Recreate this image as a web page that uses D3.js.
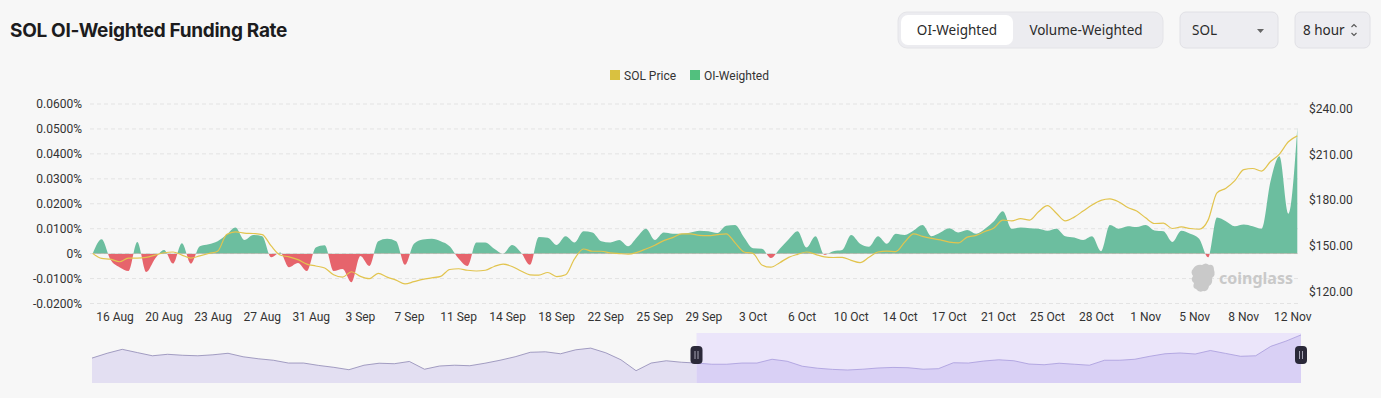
<!DOCTYPE html>
<html>
<head>
<meta charset="utf-8">
<script src="https://cdn.jsdelivr.net/npm/d3@7"></script>
<style>
  body { margin: 0; background: #f7f7f7; }
  svg { display: block; font-family: Roboto, "Noto Sans", sans-serif; }
</style>
</head>
<body>
<script>
// funding rate in %, one value every 16 hours starting 14 Aug 08:00
const fundingRate = [
  0, 0.0058, -0.0025, -0.0055, -0.007, 0.0047, -0.0074, -0.002, 0.0015, -0.004,
  0.0042, -0.004, 0.003, 0.0038, 0.005, 0.0076, 0.0105, 0.0055, 0.0075, 0.007,
  -0.0015, 0.0005, -0.0055, -0.0038, -0.007, 0.0025, 0.0034, -0.007, -0.0062, -0.0115,
  -0.001, -0.005, 0.005, 0.006, 0.005, -0.0045, 0.004, 0.0057, 0.006, 0.005,
  0.003, -0.002, -0.005, 0.0045, 0.0045, 0.002, 0, 0.0035, 0.0005, -0.0045,
  0.0067, 0.0064, 0.0035, 0.007, 0.0045, 0.009, 0.0085, 0.005, 0.0045, 0.0055,
  0.003, 0.0066, 0.01, 0.0055, 0.0085, 0.008, 0.008, 0.0085, 0.0092, 0.009,
  0.0083, 0.0112, 0.0115, 0.0065, 0.0022, 0.002, -0.0018, 0.002, 0.0058, 0.009,
  0.0025, 0.007, -0.0005, 0.001, 0.0015, 0.0075, 0.004, 0.0028, 0.007, 0.004,
  0.008, 0.0075, 0.0093, 0.0115, 0.007, 0.0085, 0.0102, 0.0085, 0.0095, 0.008,
  0.01, 0.013, 0.017, 0.01, 0.0105, 0.0102, 0.01, 0.0092, 0.01, 0.007,
  0.0065, 0.0055, 0.007, 0.001, 0.0115, 0.01, 0.011, 0.0107, 0.0115, 0.0093,
  0.009, 0.0047, 0.0092, 0.008, 0.006, -0.0015, 0.0145, 0.013, 0.011, 0.0117,
  0.011, 0.01, 0.029, 0.039, 0.016, 0.0504
];

const solPrice = [
  145.1, 141.8, 141.3, 139.6, 142.0, 142.0, 142.5, 144.0, 145.5, 146.0,
  144.0, 142.0, 143.5, 145.0, 146.5, 157.5, 159.3, 158.5, 158.2, 157.5,
  150.0, 144.0, 142.8, 141.0, 138.0, 136.8, 135.5, 131.0, 129.5, 133.0,
  130.0, 128.5, 132.0, 129.5, 127.5, 125.0, 126.5, 128.0, 129.0, 130.0,
  134.5, 135.0, 134.0, 133.5, 134.0, 136.5, 138.0, 136.5, 133.5, 131.0,
  130.8, 132.5, 129.8, 131.0, 141.5, 148.0, 146.5, 146.5, 145.5, 145.0,
  144.6, 145.8, 148.0, 150.5, 153.5, 155.5, 158.0, 158.0, 157.0, 156.8,
  157.5, 158.0, 152.0, 146.0, 145.1, 137.5, 136.0, 139.0, 142.5, 144.5,
  146.0, 144.5, 142.8, 142.4, 142.5, 140.5, 139.0, 142.5, 146.0, 146.6,
  146.3, 152.5, 158.0, 156.3, 155.0, 154.0, 152.5, 152.0, 155.8, 157.0,
  159.5, 161.8, 167.0, 166.5, 168.0, 167.0, 172.5, 176.5, 171.5, 166.5,
  169.0, 173.0, 177.0, 180.0, 181.0, 179.0, 175.3, 173.0, 168.5, 164.8,
  165.0, 161.5, 162.5, 161.5, 161.0, 167.0, 185.0, 188.0, 193.0, 200.3,
  201.0, 199.3, 205.6, 210.5, 218.6, 222.5
];
const stepHours = 16;

const tickLabels = [
  "16 Aug", "20 Aug", "23 Aug", "27 Aug", "31 Aug", "3 Sep", "7 Sep", "11 Sep",
  "14 Sep", "18 Sep", "22 Sep", "25 Sep", "29 Sep", "3 Oct", "6 Oct", "10 Oct",
  "14 Oct", "17 Oct", "21 Oct", "25 Oct", "28 Oct", "1 Nov", "5 Nov", "8 Nov", "12 Nov"
];
const tickStartHour = 40;
const tickEveryHours = 88;

const rateTicks = [-0.02, -0.01, 0, 0.01, 0.02, 0.03, 0.04, 0.05, 0.06];
const priceTicks = [120, 150, 180, 210, 240];

// longer price history for the zoom slider
const navPrice = [
  158.7, 171.9, 182.8, 173.8, 165.0, 169.1, 166.4, 165.0, 167.7, 171.9,
  162.3, 156.8, 152.7, 145.0, 145.0, 138.4, 133.2, 126.6, 139.0, 144.5,
  143.1, 149.4, 128.0, 136.8, 139.0, 137.6, 144.5, 152.7, 162.3, 174.6,
  176.0, 170.5, 181.4, 186.1, 173.2, 154.0, 123.9, 145.0, 151.3, 147.2,
  145.0, 141.7, 141.7, 145.0, 145.0, 155.4, 149.9, 136.2, 130.8, 127.5,
  125.8, 128.0, 131.3, 132.9, 132.1, 128.0, 129.4, 145.8, 145.0, 150.5,
  154.0, 151.3, 142.3, 140.3, 144.5, 141.7, 139.0, 152.7, 152.7, 155.4,
  163.6, 170.5, 172.7, 169.9, 179.5, 171.6, 163.6, 165.0, 191.0, 205.3, 222.5
];
const navWindow = [0.5, 1];

const width = 1381, height = 398;
const svg = d3.select("body").append("svg")
    .attr("width", width)
    .attr("height", height);

// header
svg.append("text")
    .attr("x", 10).attr("y", 37)
    .style("font-family", "Inter, 'Noto Sans', sans-serif")
    .style("font-weight", 700)
    .style("font-size", "19px")
    .style("letter-spacing", "-0.3px")
    .attr("fill", "#1c1c1e")
    .text("SOL OI-Weighted Funding Rate");

let ctl = svg.append("g").style("font-family", "'Noto Sans', sans-serif").style("font-size", "13.5px");
ctl.append("rect").attr("x", 898).attr("y", 12).attr("width", 265).attr("height", 36)
   .attr("rx", 9).attr("fill", "#ececf0").attr("stroke", "#e4e4e8");
ctl.append("rect").attr("x", 901).attr("y", 15).attr("width", 112).attr("height", 30)
   .attr("rx", 7).attr("fill", "#ffffff");
ctl.append("text").attr("x", 957).attr("y", 35).attr("text-anchor", "middle")
   .attr("fill", "#2a2a2a").text("OI-Weighted");
ctl.append("text").attr("x", 1086).attr("y", 35).attr("text-anchor", "middle")
   .attr("fill", "#2a2a2a").text("Volume-Weighted");

ctl.append("rect").attr("x", 1180).attr("y", 12).attr("width", 98).attr("height", 36)
   .attr("rx", 6).attr("fill", "#ededf1").attr("stroke", "#e0e0e5");
ctl.append("text").attr("x", 1192).attr("y", 35).attr("fill", "#2a2a2a").text("SOL");
ctl.append("path").attr("d", "M1257,29 L1264,29 L1260.5,33 Z").attr("fill", "#666");

ctl.append("rect").attr("x", 1295).attr("y", 12).attr("width", 75).attr("height", 36)
   .attr("rx", 6).attr("fill", "#ededf1").attr("stroke", "#e0e0e5");
ctl.append("text").attr("x", 1303).attr("y", 35).attr("fill", "#2a2a2a").text("8 hour");
ctl.append("path").attr("d", "M1351.5,27 L1354,24.5 L1356.5,27 M1351.5,33 L1354,35.5 L1356.5,33")
   .attr("fill", "none").attr("stroke", "#555").attr("stroke-width", 1.1);

// legend
let legend = svg.append("g").style("font-size", "12px").attr("fill", "#333");
legend.append("rect").attr("x", 610).attr("y", 70).attr("width", 10).attr("height", 10).attr("fill", "#d9c140");
legend.append("text").attr("x", 624).attr("y", 79.5).text("SOL Price");
legend.append("rect").attr("x", 690).attr("y", 70).attr("width", 10).attr("height", 10).attr("fill", "#52c07e");
legend.append("text").attr("x", 704).attr("y", 79.5).text("OI-Weighted");

// scales
const lastHour = (fundingRate.length - 1) * stepHours;
const x = d3.scaleLinear().domain([0, lastHour]).range([92.7, 1297.3]);
const yRate = d3.scaleLinear().domain([-0.02, 0.06]).range([303.5, 104]);
const yPrice = d3.scaleLinear().domain([120, 240]).range([291.5, 109.3]);

// grid
svg.append("g").selectAll("line").data(rateTicks).enter().append("line")
    .attr("x1", 90).attr("x2", 1300)
    .attr("y1", d => yRate(d)).attr("y2", d => yRate(d))
    .attr("stroke", "#e3e3e3").attr("stroke-dasharray", "4,3");

// axes labels
svg.append("g").selectAll("text").data(rateTicks).enter().append("text")
    .attr("x", 82).attr("y", d => yRate(d) + 4)
    .attr("text-anchor", "end")
    .style("font-size", "12px").attr("fill", "#333")
    .text(d => d === 0 ? "0%" : d.toFixed(4) + "%");

svg.append("g").selectAll("text").data(priceTicks).enter().append("text")
    .attr("x", 1309).attr("y", d => yPrice(d) + 4)
    .style("font-size", "12px").attr("fill", "#333")
    .text(d => "$" + d.toFixed(2));

svg.append("g").selectAll("text").data(tickLabels).enter().append("text")
    .attr("x", (d, i) => x(tickStartHour + i * tickEveryHours))
    .attr("y", 321)
    .attr("text-anchor", "middle")
    .style("font-size", "12px").attr("fill", "#333")
    .text(d => d);

// watermark
let wm = svg.append("g").attr("fill", "#c9c9c9");
wm.append("path")
  .attr("d", "M1193,269 q3,-5 9,-4 q4,-3 7,0 q5,-1 5,5 q2,5 -2,8 q1,6 -3,8 q-1,6 -6,5 q-4,2 -7,-2 q-4,-1 -2,-6 q-4,-3 -1,-7 q-3,-4 0,-7 Z");
wm.append("text").attr("x", 1219).attr("y", 284)
  .style("font-size", "16px").style("font-weight", 700)
  .style("font-family", "'Noto Sans', sans-serif")
  .text("coinglass");

// funding area, green above zero, red below
let defs = svg.append("defs");
defs.append("clipPath").attr("id", "above").append("rect")
    .attr("x", 0).attr("y", 0).attr("width", width).attr("height", yRate(0));
defs.append("clipPath").attr("id", "below").append("rect")
    .attr("x", 0).attr("y", yRate(0)).attr("width", width).attr("height", height);

let area = d3.area()
    .x((d, i) => x(i * stepHours))
    .y0(yRate(0))
    .y1(d => yRate(d))
    .curve(d3.curveMonotoneX);

svg.append("path").datum(fundingRate)
    .attr("clip-path", "url(#above)")
    .attr("d", area).attr("fill", "#6cbe9f");
svg.append("path").datum(fundingRate)
    .attr("clip-path", "url(#below)")
    .attr("d", area).attr("fill", "#e6646c");

// price line
let priceLine = d3.line()
    .x((d, i) => x(i * stepHours))
    .y(d => yPrice(d))
    .curve(d3.curveMonotoneX);
svg.append("path").datum(solPrice)
    .attr("d", priceLine)
    .attr("fill", "none").attr("stroke", "#e2c44e").attr("stroke-width", 1.2);

// zoom slider
const navX = d3.scaleLinear().domain([0, navPrice.length - 1]).range([92, 1301]);
const navY = d3.scaleLinear().domain([90, 225]).range([383, 334]);
const selX0 = navX.range()[0] + navWindow[0] * (navX.range()[1] - navX.range()[0]);
const selX1 = navX.range()[0] + navWindow[1] * (navX.range()[1] - navX.range()[0]);

let navArea = d3.area().x((d, i) => navX(i)).y0(383).y1(d => navY(d));
let navLine = d3.line().x((d, i) => navX(i)).y(d => navY(d));

svg.append("rect").attr("x", selX0).attr("y", 333).attr("width", selX1 - selX0).attr("height", 50)
   .attr("fill", "#ebe5fa");
defs.append("clipPath").attr("id", "navsel").append("rect")
    .attr("x", selX0).attr("y", 320).attr("width", selX1 - selX0).attr("height", 70);
defs.append("clipPath").attr("id", "navrest").append("rect")
    .attr("x", 0).attr("y", 320).attr("width", selX0).attr("height", 70);

svg.append("path").datum(navPrice).attr("clip-path", "url(#navrest)")
   .attr("d", navArea).attr("fill", "#e3dff2");
svg.append("path").datum(navPrice).attr("clip-path", "url(#navrest)")
   .attr("d", navLine).attr("fill", "none").attr("stroke", "#8e88b4").attr("stroke-width", 0.8);
svg.append("path").datum(navPrice).attr("clip-path", "url(#navsel)")
   .attr("d", navArea).attr("fill", "#d9d0f5");
svg.append("path").datum(navPrice).attr("clip-path", "url(#navsel)")
   .attr("d", navLine).attr("fill", "none").attr("stroke", "#a79bdc").attr("stroke-width", 0.8);

let handles = svg.append("g").selectAll("g").data([selX0, selX1]).enter().append("g");
handles.append("rect")
    .attr("x", d => d - 6).attr("y", 346).attr("width", 12).attr("height", 18)
    .attr("rx", 4).attr("fill", "#2b2939");
handles.append("path")
    .attr("d", d => `M${d - 1.5},351 V359 M${d + 1.5},351 V359`)
    .attr("stroke", "#a5a3b3").attr("stroke-width", 1);
</script>
</body>
</html>
